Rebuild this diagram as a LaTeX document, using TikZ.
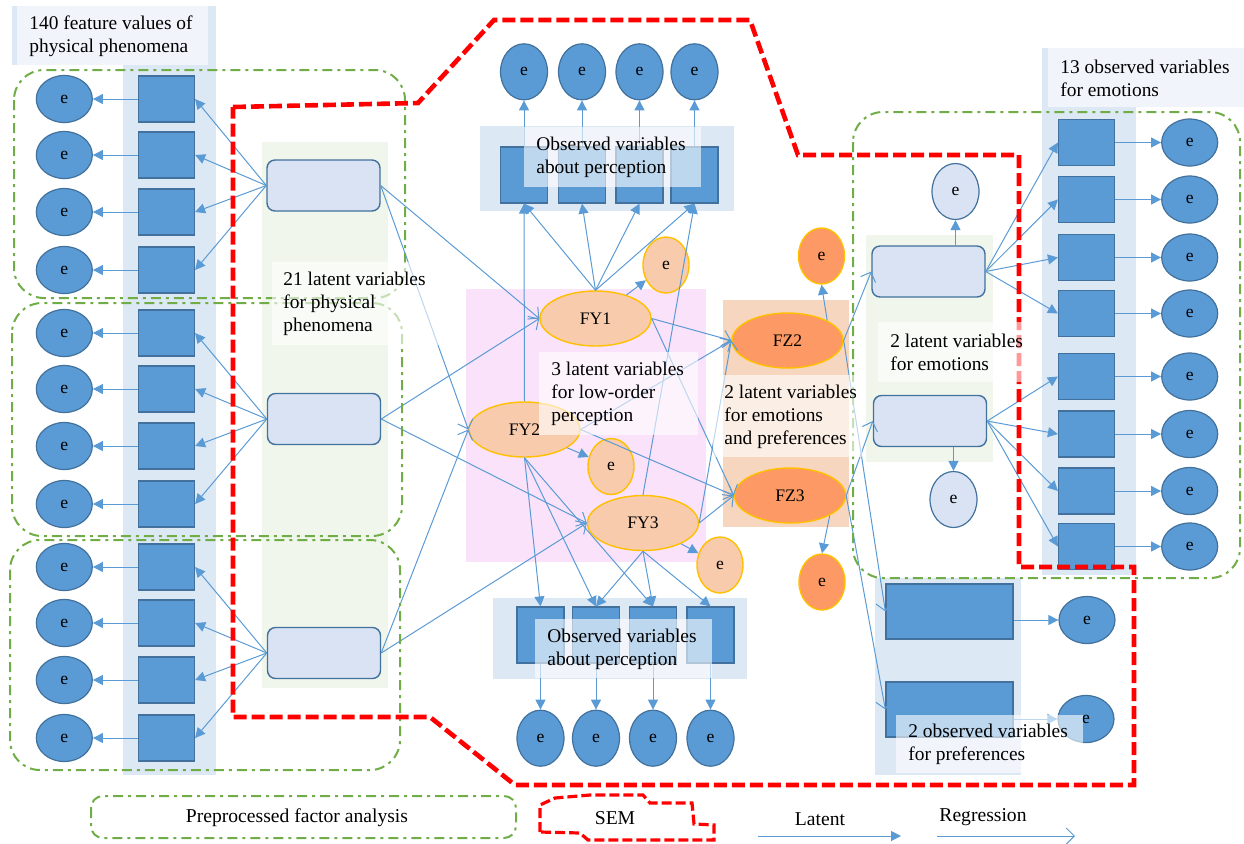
\documentclass[tikz,border=0pt]{standalone}
\usepackage{fontspec}
\setmainfont{Liberation Serif}
\usetikzlibrary{positioning, shapes.geometric, arrows.meta}

\definecolor{obsblue}{RGB}{91,155,213}
\definecolor{edgeblue}{RGB}{65,113,156}
\definecolor{latfill}{RGB}{218,227,243}
\definecolor{colbg}{RGB}{221,232,245}
\definecolor{grnbg}{RGB}{240,246,235}
\definecolor{pinkbg}{RGB}{250,226,250}
\definecolor{peachbg}{RGB}{246,214,191}
\definecolor{fyfill}{RGB}{248,203,173}
\definecolor{fzfill}{RGB}{252,153,100}
\definecolor{goldline}{RGB}{255,192,0}
\definecolor{fagreen}{RGB}{112,173,71}
\definecolor{semred}{RGB}{255,0,0}

\begin{document}
\begin{tikzpicture}[
    x=0.5pt, y=-0.5pt,
    font=\fontsize{8.8}{10}\selectfont,
    obsbox/.style = {draw=edgeblue, fill=obsblue, line width=0.6pt, minimum width=28pt, minimum height=23pt, inner sep=0pt},
    obstall/.style = {obsbox, minimum width=23.5pt, minimum height=28pt},
    prefbox/.style = {obsbox, minimum width=63.5pt, minimum height=27.5pt},
    errball/.style = {ellipse, draw=edgeblue, fill=obsblue, line width=0.6pt, minimum width=28pt, minimum height=23.5pt, inner sep=0pt},
    errtall/.style = {errball, minimum width=23.5pt, minimum height=28pt},
    errlight/.style = {errtall, fill=latfill},
    erryel/.style = {ellipse, draw=goldline, fill=fyfill, line width=0.7pt, minimum width=23pt, minimum height=28pt, inner sep=0pt},
    errfz/.style = {erryel, fill=fzfill},
    latbox/.style = {draw=edgeblue, fill=latfill, rounded corners=4pt, line width=0.7pt, minimum width=56.5pt, minimum height=25.5pt},
    fynode/.style = {ellipse, draw=goldline, fill=fyfill, line width=0.7pt, minimum width=55.5pt, minimum height=27.5pt, inner sep=0pt},
    fznode/.style = {fynode, fill=fzfill},
    lblbox/.style = {fill=white, fill opacity=0.6, inner sep=0pt, anchor=north west},
    lbltext/.style = {align=left, inner sep=0pt, font=\fontsize{9.7}{11.5}\selectfont},
    lgtext/.style = {font=\fontsize{9.8}{11}\selectfont},
    lat/.style = {draw=obsblue, line width=0.5pt, -{Triangle[length=5pt, width=5pt]}},
    reg/.style = {draw=obsblue, line width=0.5pt, -{Straight Barb[length=4pt, width=8pt]}},
    fabox/.style = {draw=fagreen, line width=1pt, dash pattern=on 5pt off 2.5pt on 1.5pt off 2.5pt, rounded corners=15pt},
    semline/.style = {draw=semred, line width=2.3pt, dash pattern=on 6.5pt off 2.5pt}
]
\useasboundingbox (0,0) rectangle (1244,843);

% backgrounds
\fill[colbg] (123,65) rectangle (216,775);
\fill[colbg] (12,6) rectangle (216,65);
\fill[grnbg] (262,142) rectangle (388,688);
\fill[colbg] (480,126) rectangle (734,211);
\fill[pinkbg] (466,289) rectangle (706,562);
\fill[colbg] (493,598) rectangle (747,679);
\fill[peachbg] (723,300) rectangle (849,527);
\fill[grnbg] (866,235) rectangle (993,462);
\fill[colbg] (1042,48) rectangle (1244,107);
\fill[colbg] (1042,107) rectangle (1136,575);
\fill[colbg] (875,578) rectangle (1021,775);

% physical phenomena
\foreach \i/\y in {1/99, 2/155, 3/212, 4/270, 5/333, 6/389, 7/446, 8/504, 9/567, 10/623, 11/680, 12/738} {
    \node[obsbox] (p\i) at (166.5,\y) {};
    \node[errball, left=22.5pt of p\i] (pe\i) {e};
    \draw[lat] (p\i) -- (pe\i);
}
\node[latbox] (l1) at (323.5,185.5) {};
\node[latbox] (l2) at (324,419) {};
\node[latbox] (l3) at (324,653) {};
\foreach \i in {1,...,4} \draw[lat] (l1.west) -- (p\i.east);
\foreach \i in {5,...,8} \draw[lat] (l2.west) -- (p\i.east);
\foreach \i in {9,...,12} \draw[lat] (l3.west) -- (p\i.east);

% perception
\node[fynode] (fy1) at (595.5,318.5) {FY1};
\node[fynode] (fy2) at (524.5,429.5) {FY2};
\node[fynode] (fy3) at (643,523) {FY3};
\node[erryel] (ey1) at (666,265) {e};
\node[erryel] (ey2) at (611,466.5) {e};
\node[erryel] (ey3) at (720,565) {e};

\foreach \i/\x in {1/524, 2/582, 3/639.5, 4/694.5} {
    \node[obstall] (o\i) at (\x,175) {};
    \node[errtall, above=23pt of o\i] (oe\i) {e};
    \draw[lat] (o\i) -- (oe\i);
}
\foreach \i/\x in {1/540.5, 2/596, 3/653, 4/710.5} {
    \node[obstall] (b\i) at (\x,635) {};
    \node[errtall, below=23pt of b\i] (be\i) {e};
    \draw[lat] (b\i) -- (be\i);
}

% emotions and preferences
\node[fznode] (fz2) at (787.5,340.5) {FZ2};
\node[fznode] (fz3) at (790,495.5) {FZ3};
\node[errfz] (ez2) at (821.5,256) {e};
\node[errfz] (ez3) at (822,582) {e};

\node[latbox] (m1) at (928.5,271.5) {};
\node[latbox] (m2) at (930,421) {};
\node[errlight] (em1) at (955.5,191.5) {e};
\node[errlight] (em2) at (953.5,499.5) {e};

\foreach \i/\y in {1/142.5, 2/199.5, 3/257.5, 4/313.5, 5/376.5, 6/434, 7/491, 8/546.5} {
    \node[obsbox] (q\i) at (1086.5,\y) {};
    \node[errball, right=23pt of q\i] (qe\i) {e};
    \draw[lat] (q\i) -- (qe\i);
}
\node[prefbox] (r1) at (949.5,611.5) {};
\node[prefbox] (r2) at (949.5,709.5) {};
\node[errball] (re1) at (1087,620) {e};
\node[errball] (re2) at (1086,719) {e};

% regression
\draw[reg] (l1.east) -- (fy1.west);
\draw[reg] (l1.east) -- (fy2.west);
\draw[reg] (l2.east) -- (fy1.west);
\draw[reg] (l2.east) -- (fy3.west);
\draw[reg] (l3.east) -- (fy2.west);
\draw[reg] (l3.east) -- (fy3.west);
\draw[reg] (fy1.east) -- (fz2.west);
\draw[reg] (fy1.east) -- (fz3.west);
\draw[reg] (fy2.east) -- (fz2.west);
\draw[reg] (fy2.east) -- (fz3.west);
\draw[reg] (fy3.east) -- (fz2.west);
\draw[reg] (fy3.east) -- (fz3.west);
\draw[reg] (fz2.east) -- (m1.west);
\draw[reg] (fz3.east) -- (m2.west);
\draw[reg] (fz2.east) -- (r1.west);
\draw[reg] (fz3.east) -- (r2.west);

% latent
\foreach \i in {1,...,4} \draw[lat] (fy1.north) -- (o\i.south);
\draw[lat] (fy2.north) -- (o1.south);
\draw[lat] (fy3.north) -- (o4.south);
\foreach \i in {1,2,3} \draw[lat] (fy2.south) -- (b\i.north);
\foreach \i in {2,3,4} \draw[lat] (fy3.south) -- (b\i.north);
\draw[lat] (fy1) -- (ey1);
\draw[lat] (fy2) -- (ey2);
\draw[lat] (fy3) -- (ey3);
\draw[lat] (fz2.north east) -- (ez2.south);
\draw[lat] (fz3.south east) -- (ez3.north);
\draw[lat] (m1.north -| em1) -- (em1);
\draw[lat] (m2.south -| em2) -- (em2);
\foreach \i in {1,...,4} \draw[lat] (m1.east) -- (q\i.west);
\foreach \i in {5,...,8} \draw[lat] (m2.east) -- (q\i.west);
\draw[lat] (r1.east |- re1) -- (re1);
\draw[lat] (r2.east |- re2) -- (re2);

% outlines
\draw[fabox] (14,70) rectangle (405,298);
\draw[fabox] (12,303) rectangle (402,536);
\draw[fabox] (10,540) rectangle (400,770);
\draw[fabox] (853,112) rectangle (1240,578);
\draw[semline] (233,107) -- (418,103) -- (494,20) -- (750,20) -- (798,155) -- (1019,155)
    -- (1019,567) -- (1134,567) -- (1134,785) -- (515,785) -- (430,717) -- (233,717) -- cycle;

% labels
\node[lblbox, minimum width=95.5pt, minimum height=29.5pt] (lbhdrl) at (17,6) {};
\node[lbltext, right=6pt of lbhdrl.west] (txhdrl) {140 feature values of\\physical phenomena};
\node[lblbox, minimum width=98pt, minimum height=29.5pt] (lbhdrr) at (1048,48) {};
\node[lbltext, right=6pt of lbhdrr.west] (txhdrr) {13 observed variables\\for emotions};
\node[lblbox, minimum width=88.5pt, minimum height=30pt] (lbtop) at (524,127) {};
\node[lbltext, right=6pt of lbtop.west] (txtop) {Observed variables\\about perception};
\node[lblbox, minimum width=88.5pt, minimum height=29.5pt] (lbbot) at (535,619) {};
\node[lbltext, right=6pt of lbbot.west] (txbot) {Observed variables\\about perception};
\node[lblbox, minimum width=79.5pt, minimum height=41.5pt] (lbfy) at (539,352) {};
\node[lbltext, right=6pt of lbfy.west] (txfy) {3 latent variables\\for low-order\\perception};
\node[lblbox, minimum width=74.5pt, minimum height=41pt] (lbfz) at (713,375) {};
\node[lbltext, right=5.5pt of lbfz.west] (txfz) {2 latent variables\\for emotions\\and preferences};
\node[lblbox, minimum width=76pt, minimum height=30pt] (lbemo) at (878,322) {};
\node[lbltext, right=6pt of lbemo.west] (txemo) {2 latent variables\\for emotions};
\node[lblbox, minimum width=86.5pt, minimum height=41.5pt] (lbphys) at (272,262) {};
\node[lbltext, right=5.5pt of lbphys.west] (txphys) {21 latent variables\\for physical\\phenomena};
\node[lblbox, minimum width=93.5pt, minimum height=29pt] (lbpref) at (896,715) {};
\node[lbltext, right=6pt of lbpref.west] (txpref) {2 observed variables\\for preferences};

% legend
\node[lgtext] (lgfa) at (297,818) {Preprocessed factor analysis};
\draw[fabox, rounded corners=6pt] (91,796) rectangle (516,838);
\node[lgtext] (lgsem) at (615,818) {SEM};
\draw[semline, line width=1.6pt, dash pattern=on 5pt off 2pt] (540,832) -- (540,805) -- (555,798) -- (590,795)
    -- (643,795) -- (650,803) -- (692,803) -- (694,824) -- (714,825) -- (714,840) -- (588,840) -- (580,833) -- cycle;
\node[lgtext] (lglat) at (820,819) {Latent};
\coordinate (lla) at (758,836);
\coordinate (llb) at (901,836);
\draw[lat] (lla) -- (llb);
\node[lgtext] (lgreg) at (983,817) {Regression};
\coordinate (lra) at (937,836);
\coordinate (lrb) at (1075,836);
\draw[reg] (lra) -- (lrb);
\end{tikzpicture}
\end{document}
